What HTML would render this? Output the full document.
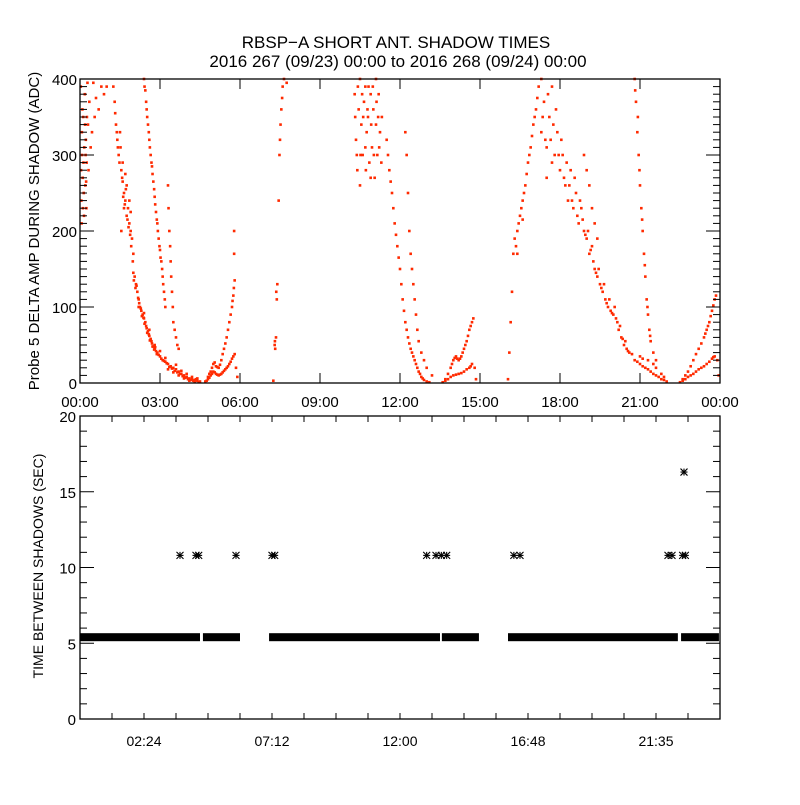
<!DOCTYPE html>
<html><head><meta charset="utf-8"><style>
body{margin:0;background:#fff;}
svg text{font-family:"Liberation Sans",sans-serif;fill:#000;}
</style></head><body>
<svg id="c" width="800" height="800" viewBox="0 0 800 800">
<text x="396" y="48" font-size="17" text-anchor="middle">RBSP−A SHORT ANT. SHADOW TIMES</text>
<text x="398" y="67" font-size="17" text-anchor="middle">2016 267 (09/23) 00:00 to 2016 268 (09/24) 00:00</text>
<g id="topPanel"></g>
<g id="botPanel"></g>
</svg>
<script>
// ---- top panel data: [hour, ADC] ----
const ampPoints = [
[0.05,240],[0.08,300],[0.1,270],[0.12,350],[0.15,220],[0.18,380],[0.2,260],[0.22,320],[0.25,290],[0.28,395],[0.3,340],[0.35,370],[0.4,310],[0.5,395],[0.6,375],[0.7,360],[0.8,390],[1.0,390],[0.06,210],[0.14,250],[0.24,230],[0.32,280],
[0.04,280],[0.07,330],[0.09,360],[0.11,230],[0.13,290],[0.16,310],[0.19,340],[0.21,300],[0.23,265],[0.26,350],[0.03,390],[0.45,330],[0.55,350],[0.9,380],
[1.25,390],[1.3,370],[1.35,340],[1.4,320],[1.45,300],[1.5,330],[1.55,280],[1.6,265],[1.65,250],[1.7,240],[1.75,220],[1.8,230],[1.85,210],[1.9,200],[1.95,190],[2.0,170],[1.55,200],[1.65,230],[1.75,260],
[1.32,355],[1.38,330],[1.42,310],[1.48,290],[1.52,310],[1.58,270],[1.62,245],[1.68,235],[1.72,255],[1.78,215],[1.82,205],[1.88,195],[1.92,180],[1.98,160],[1.6,290],[1.7,275],[1.85,240],[1.9,225],
[2.0,145],[2.05,140],[2.1,130],[2.15,120],[2.2,110],[2.25,100],[2.3,95],[2.35,90],[2.4,85],[2.45,80],[2.5,72],[2.55,68],[2.6,62],[2.65,58],[2.7,52],[2.75,48],[2.8,45],[2.85,42],[2.9,40],[3.0,35],[3.1,30],[3.2,28],[3.3,25],[3.4,22],[3.5,20],[3.6,18],[3.7,15],[3.8,12],[3.9,10],[4.0,8],[4.1,6],[4.2,5],[4.3,4],[4.4,3],[4.5,2],[3.3,18],[3.5,14],[3.7,10],[3.9,6],[4.1,3],[4.3,2],[2.2,100],[2.4,92],[2.6,70],[2.8,50],[3.0,42],[3.2,33],
[2.02,135],[2.08,125],[2.12,128],[2.18,112],[2.22,105],[2.28,98],[2.32,88],[2.38,86],[2.42,78],[2.48,75],[2.52,66],[2.58,64],[2.62,56],[2.68,55],[2.72,48],[2.78,44],[2.82,47],[2.88,38],[2.95,37],[3.05,32],[3.15,29],[3.25,26],[3.35,21],[3.45,19],[3.55,16],[3.65,14],[3.75,12],[3.85,9],[3.95,7],[4.05,5],[4.15,4],[4.25,3],[4.35,5],[4.45,1],[3.6,24],[3.8,16],[4.0,12],[4.2,8],[4.4,6],
[2.4,400],[2.45,385],[2.5,360],[2.55,340],[2.6,320],[2.65,300],[2.7,285],[2.75,265],[2.8,245],[2.85,225],[2.9,210],[2.95,190],[3.0,175],[3.05,160],[3.1,140],[3.15,120],[3.2,100],
[2.42,390],[2.48,370],[2.52,350],[2.58,330],[2.62,310],[2.68,290],[2.72,275],[2.78,255],[2.82,235],[2.88,215],[2.92,200],[2.98,180],[3.02,165],[3.08,150],[3.12,130],[3.18,110],
[3.3,260],[3.32,230],[3.35,200],[3.38,180],[3.4,160],[3.42,140],[3.45,120],[3.48,100],[3.5,80],[3.55,70],[3.6,60],[3.65,50],[3.7,45],
[4.7,2],[4.8,5],[4.9,10],[5.0,15],[5.1,12],[5.2,10],[5.3,12],[5.4,16],[5.5,20],[5.6,25],[5.7,32],[5.8,38],[5.85,20],[5.9,8],
[4.75,3],[4.85,7],[4.95,12],[5.05,14],[5.15,11],[5.25,11],[5.35,14],[5.45,18],[5.55,22],[5.65,28],[5.75,35],
[4.8,8],[4.9,15],[5.0,25],[5.1,22],[5.2,20],[5.3,30],[5.4,45],[5.5,60],[5.6,80],[5.7,100],[5.75,115],[5.8,135],[5.78,170],[5.78,200],
[4.85,12],[4.95,20],[5.05,27],[5.15,21],[5.25,24],[5.35,38],[5.45,52],[5.55,70],[5.65,90],[5.72,108],[5.77,125],
[7.25,3],[7.3,50],[7.32,45],[7.35,60],[7.38,110],[7.4,130],[7.45,240],[7.48,300],[7.5,320],[7.55,360],[7.6,390],[7.65,400],[7.75,395],
[7.31,55],[7.36,120],[7.52,340],[7.58,375],
[10.3,380],[10.35,320],[10.4,280],[10.45,360],[10.5,400],[10.55,340],[10.6,300],[10.65,370],[10.7,390],[10.75,330],[10.8,350],[10.85,290],[10.9,380],[10.95,310],[11.0,360],[11.05,270],[11.1,340],[11.15,300],[11.2,380],[11.25,330],[11.3,290],[10.5,260],[10.7,310],[10.9,270],[11.1,400],
[10.32,350],[10.42,390],[10.52,300],[10.62,350],[10.72,280],[10.82,390],[10.92,340],[11.02,300],[11.12,370],[11.22,310],[11.32,350],[10.38,300],[10.58,380],[10.78,360],[10.98,390],[11.18,350],
[11.5,320],[11.6,280],[11.7,250],[11.8,210],[11.9,180],[12.0,150],[12.1,110],[12.2,80],[12.3,60],[12.4,45],[12.5,35],[12.6,25],[12.7,15],[12.8,8],[12.9,4],[13.0,2],[13.1,1],
[11.55,300],[11.65,265],[11.75,230],[11.85,195],[11.95,165],[12.05,130],[12.15,95],[12.25,70],[12.35,52],[12.45,40],[12.55,30],[12.65,20],[12.75,12],[12.85,6],
[12.2,330],[12.25,300],[12.3,250],[12.35,200],[12.4,170],[12.45,150],[12.5,130],[12.55,110],[12.6,90],[12.65,70],[12.7,55],[12.8,40],[12.9,30],[13.0,20],[13.2,10],
[13.6,1],[13.8,5],[14.0,10],[14.2,12],[14.4,15],[14.6,20],[14.7,25],[14.8,20],[14.85,5],
[13.7,3],[13.9,8],[14.1,11],[14.3,13],[14.5,18],[14.65,22],
[13.7,5],[13.9,20],[14.0,30],[14.1,35],[14.2,30],[14.3,35],[14.4,45],[14.5,55],[14.6,70],[14.7,80],[14.75,85],
[13.8,12],[13.95,25],[14.05,33],[14.15,32],[14.25,32],[14.35,40],[14.45,50],[14.55,62],[14.65,75],
[16.05,5],[16.1,40],[16.15,80],[16.2,120],[16.25,170],[16.3,190],[16.4,200],[16.5,220],[16.6,240],[16.7,260],[16.8,290],[16.9,310],[17.0,340],[17.1,360],[17.2,390],[17.3,400],
[16.35,180],[16.45,210],[16.55,230],[16.65,250],[16.75,275],[16.85,300],[16.95,325],[17.05,350],[17.15,375],[16.4,170],[16.6,215],
[17.3,330],[17.4,370],[17.5,310],[17.6,350],[17.7,390],[17.8,300],[17.9,330],[18.0,280],[17.5,270],[17.7,290],[18.1,300],[18.2,260],[18.3,240],[18.4,280],[18.5,230],[18.6,250],[18.7,210],[18.8,230],[18.9,200],[19.0,190],[19.1,170],[19.2,180],[19.3,150],[19.4,140],[19.5,130],[19.6,120],[19.7,110],[19.8,100],[19.9,95],[20.0,90],[20.1,85],[20.2,70],[20.3,60],[20.4,50],[20.5,45],[20.6,40],[20.8,30],[21.0,25],[21.2,20],[21.4,15],[21.6,10],[21.8,5],[22.0,2],[21.0,35],[21.3,30],[21.6,20],[21.9,8],
[17.35,350],[17.45,320],[17.55,380],[17.65,320],[17.75,340],[17.85,360],[17.95,300],[18.05,320],[18.15,270],[18.25,290],[18.35,260],[18.45,240],[18.55,270],[18.65,220],[18.75,240],[18.85,215],[18.95,195],[19.05,200],[19.15,175],[19.25,160],[19.35,145],[19.45,150],[19.55,125],[19.65,130],[19.75,105],[19.85,110],[19.95,92],[20.05,100],[20.15,80],[20.25,75],[20.35,58],[20.45,55],[20.55,42],[20.7,38],[20.9,28],[21.1,22],[21.3,18],[21.5,12],[21.7,8],[21.9,4],[21.1,32],[21.5,25],[21.8,12],
[18.9,300],[19.0,280],[19.1,260],[19.2,230],[19.3,210],[19.4,190],
[20.8,400],[20.85,370],[20.9,330],[20.95,300],[21.0,260],[21.05,230],[21.1,200],[21.15,170],[21.2,140],[21.25,110],[21.3,90],[21.35,70],[21.4,55],[21.5,40],[21.6,30],
[20.82,385],[20.92,350],[20.98,280],[21.08,215],[21.18,155],[21.28,100],[21.38,62],
[22.5,1],[22.7,5],[22.9,10],[23.1,15],[23.3,20],[23.5,25],[23.7,32],[23.8,35],[23.9,30],[23.95,10],
[22.6,3],[22.8,8],[23.0,12],[23.2,18],[23.4,22],[23.6,28],[23.75,34],
[22.6,5],[22.8,15],[23.0,30],[23.2,45],[23.4,60],[23.5,70],[23.6,80],[23.7,95],[23.8,110],[23.85,115],
[22.7,10],[22.9,22],[23.1,38],[23.3,52],[23.45,65],[23.55,75],[23.65,88],[23.75,102]
];
const topXTicks = ["00:00","03:00","06:00","09:00","12:00","15:00","18:00","21:00","00:00"];
const topYTicks = [0,100,200,300,400];
// ---- bottom panel data ----
const bandStarts = [0,4.61,7.09,13.57,16.05,22.54];
const bandEnds   = [4.5,6.0,13.5,14.96,22.42,23.96];
const bandValue = 5.4;
const outlierHours = [3.75,4.35,4.45,5.85,7.2,7.3,13.0,13.35,13.55,13.75,16.27,16.5,22.05,22.2,22.6,22.7];
const outlierVals  = [10.8,10.8,10.8,10.8,10.8,10.8,10.8,10.8,10.8,10.8,10.8,10.8,10.8,10.8,10.8,10.8];
const highHours = [22.65];
const highVals = [16.3];
const botXTickLabels = ["02:24","07:12","12:00","16:48","21:35"];
const botXTickHours = [2.4,7.2,12.0,16.8,21.6];
const botYTicks = [0,5,10,15,20];

const NS="http://www.w3.org/2000/svg";
function mk(t,a,p){const e=document.createElementNS(NS,t);for(const k in a)e.setAttribute(k,a[k]);p.appendChild(e);return e;}
const L=80,R=720;
const xs=h=>L+(R-L)*h/24;
const T1=79,B1=383, yt=v=>B1-(B1-T1)*v/400;
const T2=416,B2=719, yb=v=>B2-(B2-T2)*v/20;
const topG=document.getElementById('topPanel'), botG=document.getElementById('botPanel');

for(const [h,v] of ampPoints){
  const d=mk('rect',{x:xs(h)-1.3,y:yt(v)-1.3,width:2.6,height:2.6,fill:'#ff2a00'},topG);
  
  
}
function frame(g,T,B,name){
  const f=mk('rect',{x:L,y:T,width:R-L,height:B-T,fill:'none',stroke:'#000','stroke-width':1.3},g);
  
  
}
frame(topG,T1,B1,'amplitude-plot-frame');
topXTicks.forEach((lab,i)=>{
  const x=xs(i*3);
  mk('line',{x1:x,y1:B1,x2:x,y2:B1-10,stroke:'#000'},topG);
  mk('line',{x1:x,y1:T1,x2:x,y2:T1+10,stroke:'#000'},topG);
  const t=mk('text',{x:x,y:B1+24,'font-size':15,'text-anchor':'middle'},topG);t.textContent=lab;
  
  
});
for(let v=0;v<=400;v+=10){
  const y=yt(v),len=v%100===0?14:7;
  mk('line',{x1:L,y1:y,x2:L+len,y2:y,stroke:'#000'},topG);
  mk('line',{x1:R,y1:y,x2:R-len,y2:y,stroke:'#000'},topG);
}
topYTicks.forEach(v=>{
  const t=mk('text',{x:L-3,y:yt(v)+6,'font-size':15,'text-anchor':'end'},topG);t.textContent=v;
  
  
});
const ty=mk('text',{x:0,y:0,'font-size':15,'text-anchor':'middle',transform:`translate(39,231) rotate(-90)`},topG);
ty.textContent='Probe 5 DELTA AMP DURING SHADOW (ADC)';



for(let i=0;i<bandStarts.length;i++){
  const r=mk('rect',{x:xs(bandStarts[i]),y:yb(bandValue)-4,width:xs(bandEnds[i])-xs(bandStarts[i]),height:8,fill:'#000'},botG);
  
  
}
function star(h,v){
  const cx=xs(h),cy=yb(v),s=3.5;
  const g=mk('g',{stroke:'#000','stroke-width':1.1},botG);
  
  
  mk('line',{x1:cx-s,y1:cy,x2:cx+s,y2:cy},g);
  mk('line',{x1:cx,y1:cy-s,x2:cx,y2:cy+s},g);
  mk('line',{x1:cx-s,y1:cy-s,x2:cx+s,y2:cy+s},g);
  mk('line',{x1:cx-s,y1:cy+s,x2:cx+s,y2:cy-s},g);
}
outlierHours.forEach((h,i)=>star(h,outlierVals[i]));
highHours.forEach((h,i)=>star(h,highVals[i]));
frame(botG,T2,B2,'interval-plot-frame');
for(let h=0;h<=24.01;h+=1.2){
  const x=xs(h);
  mk('line',{x1:x,y1:B2,x2:x,y2:B2-6,stroke:'#000'},botG);
  mk('line',{x1:x,y1:T2,x2:x,y2:T2+6,stroke:'#000'},botG);
}
botXTickLabels.forEach((lab,i)=>{
  const t=mk('text',{x:xs(botXTickHours[i]),y:B2+27,'font-size':14,'text-anchor':'middle'},botG);t.textContent=lab;
  
  
});
for(let v=0;v<=20;v++){
  const y=yb(v),len=v%5===0?14:7;
  mk('line',{x1:L,y1:y,x2:L+len,y2:y,stroke:'#000'},botG);
  mk('line',{x1:R,y1:y,x2:R-len,y2:y,stroke:'#000'},botG);
}
botYTicks.forEach(v=>{
  const t=mk('text',{x:L-4,y:yb(v)+6,'font-size':15,'text-anchor':'end'},botG);t.textContent=v;
  
  
});
const by=mk('text',{x:0,y:0,'font-size':14,'text-anchor':'middle',transform:`translate(43,566) rotate(-90)`},botG);
by.textContent='TIME BETWEEN SHADOWS (SEC)';


</script>
</body></html>
